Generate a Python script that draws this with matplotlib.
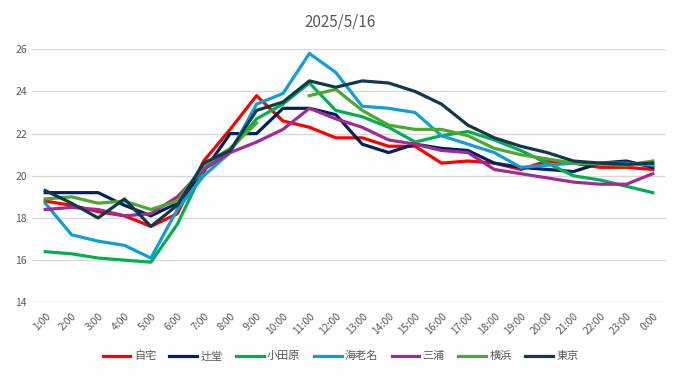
import matplotlib.pyplot as plt
import numpy as np

plt.rcParams['font.family'] = ['Noto Sans CJK JP', 'DejaVu Sans']

hours = ["1:00", "2:00", "3:00", "4:00", "5:00", "6:00", "7:00", "8:00",
         "9:00", "10:00", "11:00", "12:00", "13:00", "14:00", "15:00", "16:00",
         "17:00", "18:00", "19:00", "20:00", "21:00", "22:00", "23:00", "0:00"]

jitaku = [18.8, 18.6, 18.3, 18.1, 17.6, 18.2, 20.7, 22.2, 23.8, 22.6, 22.3, 21.8,
          21.8, 21.4, 21.4, 20.6, 20.7, 20.6, 20.3, 20.7, 20.6, 20.4, 20.4, 20.3]
tsujido = [19.2, 19.2, 19.2, 18.6, 18.1, 18.7, 20.2, 22.0, 22.0, 23.2, 23.2, 22.9,
           21.5, 21.1, 21.5, 21.3, 21.2, 20.6, 20.4, 20.3, 20.2, 20.6, 20.7, 20.4]
odawara = [16.4, 16.3, 16.1, 16.0, 15.9, 17.7, 20.3, 21.2, 22.7, 23.4, 24.4, 23.1,
           22.8, 22.3, 21.6, 21.9, 22.1, 21.7, 21.2, 20.6, 20.0, 19.8, 19.5, 19.2]
ebina = [18.7, 17.2, 16.9, 16.7, 16.1, 18.4, 20.0, 21.1, 23.4, 23.9, 25.8, 24.9,
         23.3, 23.2, 23.0, 21.9, 21.5, 21.1, 20.4, 20.5, 20.6, 20.6, 20.6, 20.5]
miura = [18.4, 18.5, 18.4, 18.1, 18.2, 19.0, 20.3, 21.1, 21.6, 22.2, 23.2, 22.7,
         22.3, 21.7, 21.5, 21.2, 21.1, 20.3, 20.1, 19.9, 19.7, 19.6, 19.6, 20.1]
yokohama = [18.9, 19.0, 18.7, 18.8, 18.4, 18.8, 20.5, 21.3, 22.5, np.nan, 23.8, 24.1,
            23.1, 22.4, 22.2, 22.2, 21.9, 21.3, 21.0, 20.8, 20.6, 20.55, 20.5, 20.7]
tokyo = [19.3, 18.7, 18.0, 18.9, 17.6, 18.6, 20.6, 21.2, 23.1, 23.5, 24.5, 24.2,
         24.5, 24.4, 24.0, 23.4, 22.4, 21.8, 21.4, 21.1, 20.7, 20.6, 20.55, 20.6]

series = [("自宅", jitaku, "#FF0000"),
          ("辻堂", tsujido, "#002060"),
          ("小田原", odawara, "#00B050"),
          ("海老名", ebina, "#0F9ED5"),
          ("三浦", miura, "#A02B93"),
          ("横浜", yokohama, "#4EA72E"),
          ("東京", tokyo, "#0F3A4B")]

fig = plt.figure(figsize=(6.81, 3.79), dpi=100)
ax = fig.add_axes([0.047, 0.2024, 0.931, 0.6676])

x = np.arange(len(hours))
for name, vals, col in series:
    ax.plot(x, vals, color=col, lw=2.3, label=name)

ax.set_xlim(-0.5, len(hours) - 0.5)
ax.set_ylim(14, 26)
ax.set_yticks(np.arange(14, 27, 2))
ax.set_xticks(x)
ax.set_xticklabels(hours, rotation=45, ha='right', rotation_mode='anchor')
ax.grid(axis='y', color='#D9D9D9', lw=1)
ax.set_axisbelow(True)
for s in ax.spines.values():
    s.set_visible(False)
ax.tick_params(length=0, colors='#595959', labelsize=7.5)
ax.tick_params(axis='x', pad=6)

fig.suptitle("2025/5/16", x=0.5, y=0.965, fontsize=11, color='#595959')
fig.legend(loc='lower center', bbox_to_anchor=(0.5, 0.02), ncol=7, frameon=False,
           fontsize=8, labelcolor='#595959', handlelength=2.5, handletextpad=0.3,
           columnspacing=1.2)

fig.savefig("out.png", dpi=100, facecolor='white')
